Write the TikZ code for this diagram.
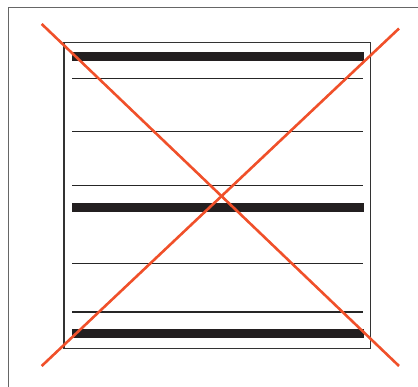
\documentclass[tikz,border=0pt]{standalone}
\definecolor{xred}{HTML}{F0502A}
\definecolor{barblack}{HTML}{231F20}
\tikzset{
  frameline/.style={draw=gray!80!black, line width=1.4pt},
  boxline/.style={draw=black!80, line width=1.1pt},
  thinrule/.style={draw=black!85, line width=1.1pt},
  thickbar/.style={draw=barblack, line width=9pt},
  cross/.style={draw=xred, line width=2.6pt}
}
\begin{document}
\begin{tikzpicture}[x=1pt,y=-1pt]
\useasboundingbox (0,0) rectangle (418,387);
% partial outer frame
\draw[frameline] (8.3,387) -- (8.3,7.5) -- (418,7.5);
% inner box
\draw[boxline] (64,42.7) rectangle (370.7,348.7);
% thick bars
\foreach \yy in {56.2,208,334} \draw[thickbar] (72,\yy) -- (363.7,\yy);
% thin rules
\foreach \yy in {78.8,131.5,185.7,263.5,312} \draw[thinrule] (72,\yy) -- (362.7,\yy);
% red cross
\coordinate (a) at (41.7,24);
\coordinate (b) at (399,366);
\coordinate (c) at (41.7,366);
\coordinate (d) at (399,28.5);
\draw[cross] (a) -- (b);
\draw[cross] (c) -- (d);
\end{tikzpicture}
\end{document}
